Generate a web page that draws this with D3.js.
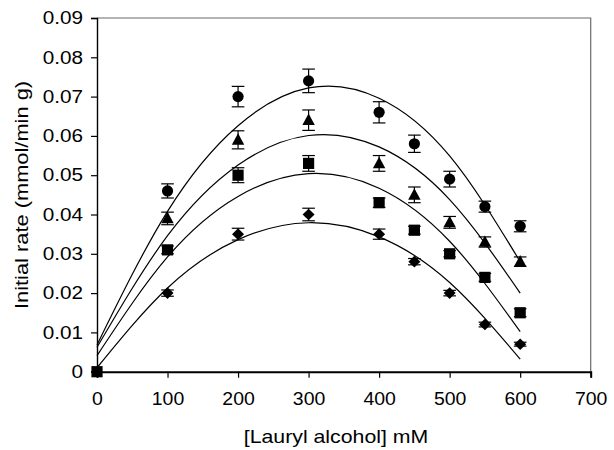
<!DOCTYPE html>
<html><head><meta charset="utf-8">
<script src="https://cdn.jsdelivr.net/npm/d3@7/dist/d3.min.js"></script>
<style>
body{margin:0;background:#fff}
text{font-family:"Liberation Sans",Arial,Helvetica,sans-serif;fill:#000}
</style>
</head><body>
<svg id="chart" width="614" height="450"></svg>
<script>
// ---- data ----
const xValues = [100, 200, 300, 400, 450, 500, 550, 600];
const circleValues   = [0.046, 0.070, 0.074, 0.066, 0.058, 0.049, 0.042, 0.037];
const circleErrors   = [0.0018, 0.0026, 0.0030, 0.0027, 0.0022, 0.0020, 0.0014, 0.0014];
const triangleValues = [0.039, 0.059, 0.064, 0.053, 0.045, 0.038, 0.033, 0.028];
const triangleErrors = [0.0016, 0.0023, 0.0026, 0.0020, 0.0020, 0.0015, 0.0013, 0.0012];
const squareValues   = [0.031, 0.050, 0.053, 0.043, 0.036, 0.030, 0.024, 0.015];
const squareErrors   = [0.0010, 0.0019, 0.0020, 0.0012, 0.0010, 0.0008, 0.0010, 0.0010];
const diamondValues  = [0.020, 0.035, 0.040, 0.035, 0.028, 0.020, 0.012, 0.007];
const diamondErrors  = [0.0008, 0.0015, 0.0016, 0.0013, 0.0008, 0.0007, 0.0006, 0.0005];
const originX = [0];
const originValues = [0];

// fitted curves
const fitX        = [0, 100, 200, 300, 400, 500, 600];
const fitCircle   = [0.0068, 0.0408, 0.0626, 0.0722, 0.0696, 0.0549, 0.0280];
const fitTriangle = [0.0062, 0.0346, 0.0526, 0.0601, 0.0572, 0.0438, 0.0200];
const fitSquare   = [0.0041, 0.0292, 0.0446, 0.0504, 0.0467, 0.0332, 0.0102];
const fitDiamond  = [0.0010, 0.0213, 0.0336, 0.0379, 0.0343, 0.0227, 0.0032];

const xTicks = [0, 100, 200, 300, 400, 500, 600, 700];
const xTickLabels = ["0", "100", "200", "300", "400", "500", "600", "700"];
const yTicks = [0, 0.01, 0.02, 0.03, 0.04, 0.05, 0.06, 0.07, 0.08, 0.09];
const yTickLabels = ["0", "0.01", "0.02", "0.03", "0.04", "0.05", "0.06", "0.07", "0.08", "0.09"];
const xTitle = "[Lauryl alcohol] mM";
const yTitle = "Initial rate (mmol/min g)";

// ---- drawing ----
const svg = d3.select("#chart");
const x = d3.scaleLinear().domain([0, 700]).range([97, 590.7]);
const y = d3.scaleLinear().domain([0, 0.09]).range([371.7, 18]);

function stretch(sel, f) {
  sel.each(function () {
    const len = this.getComputedTextLength();
    d3.select(this).attr("textLength", len * f).attr("lengthAdjust", "spacingAndGlyphs");
  });
}

// frame (top/right)
svg.append("path")
  .attr("d", `M${x(0)},${y(0.09)}H${x(700)}V${y(0)}`)
  .attr("fill", "none").attr("stroke", "#6a6a6a").attr("stroke-width", 1.2);

// y axis
const yAxis = svg.append("g").attr("transform", `translate(${x(0)},0)`)
  .call(d3.axisLeft(y).tickValues(yTicks).tickSizeOuter(0).tickSize(6)
    .tickFormat((d, i) => yTickLabels[i]));
yAxis.select(".domain").attr("stroke", "#000").attr("stroke-width", 1.4);
yAxis.selectAll(".tick line").attr("stroke", "#000").attr("stroke-width", 1.2);
yAxis.selectAll(".tick text").attr("x", -14).attr("font-size", 18)
  .attr("font-family", null).attr("fill", "#000");
stretch(yAxis.selectAll(".tick text"), 1.15);

// x axis
const xAxis = svg.append("g").attr("transform", `translate(0,${y(0)})`)
  .call(d3.axisBottom(x).tickValues(xTicks).tickSizeOuter(0).tickSize(6)
    .tickFormat((d, i) => xTickLabels[i]));
xAxis.select(".domain").attr("stroke", "#000").attr("stroke-width", 2);
xAxis.selectAll(".tick line").attr("stroke", "#000").attr("stroke-width", 1.2);
xAxis.selectAll(".tick text").attr("y", 33).attr("dy", 0).attr("font-size", 18)
  .attr("font-family", null).attr("fill", "#000");
stretch(xAxis.selectAll(".tick text"), 1.08);

// titles
const xt = svg.append("text").attr("x", 336).attr("y", 443)
  .attr("text-anchor", "middle").attr("font-size", 18.5).text(xTitle);
stretch(xt, 1.15);
const yt = svg.append("text").attr("transform", "translate(28,195) rotate(-90)")
  .attr("text-anchor", "middle").attr("font-size", 18.5).text(yTitle);
stretch(yt, 1.18);

// fit curves
const line = d3.line().x(d => x(d[0])).y(d => y(d[1])).curve(d3.curveNatural);
[fitCircle, fitTriangle, fitSquare, fitDiamond].forEach(vals => {
  svg.append("path").datum(fitX.map((xv, i) => [xv, vals[i]]))
    .attr("d", line).attr("fill", "none").attr("stroke", "#000").attr("stroke-width", 1.2);
});

// symbols
const shapes = {
  circle: "M5.6,0A5.6,5.6 0 1,1 -5.6,0A5.6,5.6 0 1,1 5.6,0Z",
  triangle: "M0,-6.6L6.2,4.8L-6.2,4.8Z",
  square: "M-5.6,-5.6H5.6V5.6H-5.6Z",
  diamond: "M0,-5.8L6,0L0,5.8L-6,0Z"
};
const series = [
  {vals: circleValues, errs: circleErrors, shape: shapes.circle},
  {vals: triangleValues, errs: triangleErrors, shape: shapes.triangle},
  {vals: squareValues, errs: squareErrors, shape: shapes.square},
  {vals: diamondValues, errs: diamondErrors, shape: shapes.diamond}
];
series.forEach(s => {
  const g = svg.append("g");
  const pts = xValues.map((xv, i) => ({x: xv, v: s.vals[i], e: s.errs[i]}));
  const eb = g.selectAll("g.eb").data(pts).enter().append("g")
    .attr("stroke", "#000").attr("stroke-width", 1.2);
  eb.append("line").attr("x1", d => x(d.x)).attr("x2", d => x(d.x))
    .attr("y1", d => y(d.v - d.e)).attr("y2", d => y(d.v + d.e));
  eb.append("line").attr("x1", d => x(d.x) - 6.3).attr("x2", d => x(d.x) + 6.3)
    .attr("y1", d => y(d.v + d.e)).attr("y2", d => y(d.v + d.e));
  eb.append("line").attr("x1", d => x(d.x) - 6.3).attr("x2", d => x(d.x) + 6.3)
    .attr("y1", d => y(d.v - d.e)).attr("y2", d => y(d.v - d.e));
  g.selectAll("path.m").data(pts).enter().append("path")
    .attr("d", s.shape).attr("fill", "#000")
    .attr("transform", d => `translate(${x(d.x)},${y(d.v)})`);
});
svg.selectAll("path.o").data(originX.map((xv, i) => [xv, originValues[i]])).enter()
  .append("path").attr("d", shapes.square).attr("fill", "#000")
  .attr("transform", d => `translate(${x(d[0])},${y(d[1])})`);
</script>
</body></html>
